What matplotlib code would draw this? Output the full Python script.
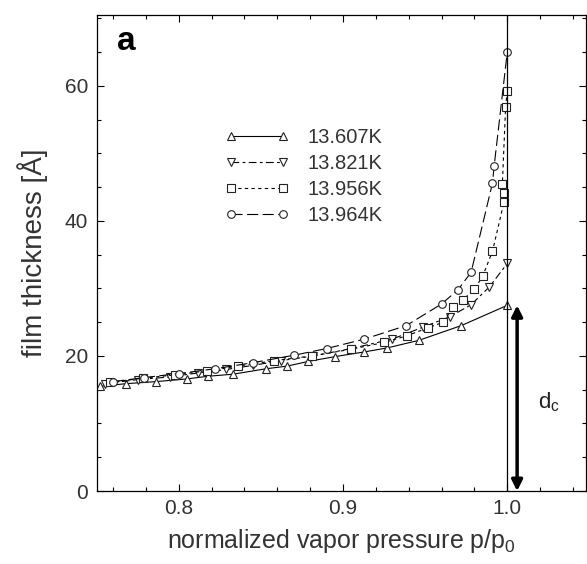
import matplotlib
matplotlib.use("Agg")
import matplotlib.pyplot as plt
from matplotlib.ticker import MultipleLocator

plt.rcParams['font.family'] = ['Liberation Sans', 'DejaVu Sans']

# film thickness vs p/p0 for four temperatures
labels = ['13.607K', '13.821K', '13.956K', '13.964K']

x_607 = [0.752, 0.768, 0.786, 0.805, 0.818, 0.833, 0.853, 0.866, 0.879, 0.895, 0.913, 0.927, 0.946, 0.972, 1.000]
y_607 = [15.5, 15.9, 16.2, 16.6, 17.0, 17.3, 18.1, 18.5, 19.2, 19.9, 20.6, 21.2, 22.3, 24.5, 27.5]

x_821 = [0.755, 0.775, 0.795, 0.812, 0.829, 0.845, 0.862, 0.882, 0.905, 0.930, 0.949, 0.965, 0.978, 0.989, 1.000]
y_821 = [15.9, 16.5, 16.9, 17.5, 18.0, 18.6, 19.3, 20.0, 21.1, 22.5, 24.3, 25.8, 27.6, 30.2, 33.7]

x_956 = [0.758, 0.778, 0.798, 0.817, 0.836, 0.858, 0.881, 0.905, 0.925, 0.939, 0.952, 0.961,
         0.967, 0.973, 0.980, 0.985, 0.991, 0.998, 0.998, 0.997, 0.999, 1.000]
y_956 = [16.1, 16.7, 17.2, 17.8, 18.5, 19.3, 20.0, 21.0, 22.0, 23.0, 24.2, 25.0,
         27.2, 28.3, 29.9, 31.8, 35.5, 42.8, 44.2, 45.4, 56.9, 59.3]

x_964 = [0.760, 0.779, 0.800, 0.822, 0.845, 0.870, 0.890, 0.913, 0.9385, 0.960, 0.970, 0.978, 0.991, 0.992, 1.000]
y_964 = [16.2, 16.8, 17.4, 18.1, 19.0, 20.1, 21.1, 22.5, 24.5, 27.7, 29.8, 32.4, 45.6, 48.1, 65.0]

d_c = 27.5  # critical thickness at p/p0 = 1

series = [(x_607, y_607), (x_821, y_821), (x_956, y_956), (x_964, y_964)]
markers = ['^', 'v', 's', 'o']
styles = ['-', (0, (7, 3, 2.5, 3)), (0, (3, 3)), (0, (10, 4))]

fig = plt.figure(figsize=(5.87, 5.64), dpi=100)
ax = fig.add_axes([0.1645, 0.1294, 0.834, 0.844])

for (xs, ys), mk, ls, lab in zip(series, markers, styles, labels):
    ax.plot(xs, ys, color='black', lw=0.8, ls=ls, marker=mk, ms=5.5,
            mfc='white', mec='#222222', mew=0.8, label=lab)

ax.axvline(1.0, color='black', lw=0.9)
ax.annotate('', xy=(1.006, 0), xytext=(1.006, d_c),
            arrowprops=dict(arrowstyle='<|-|>', lw=2.5, color='black',
                            mutation_scale=16, shrinkA=0, shrinkB=0))
ax.text(1.0185, 12.3, r'd$_{\mathregular{c}}$', fontsize=16, color='#222222')

ax.text(0.042, 0.926, 'a', transform=ax.transAxes, fontsize=24,
        fontweight='bold', va='baseline')

ax.set_xlim(0.75, 1.048)
ax.set_ylim(0, 70.5)
ax.xaxis.set_major_locator(MultipleLocator(0.1))
ax.xaxis.set_minor_locator(MultipleLocator(0.02))
ax.yaxis.set_major_locator(MultipleLocator(20))
ax.yaxis.set_minor_locator(MultipleLocator(5))
ax.set_xticks([0.8, 0.9, 1.0])
ax.set_xticklabels(['0.8', '0.9', '1.0'])
ax.tick_params(which='both', direction='in', top=True, right=True,
               labelsize=15, labelcolor='#333333', width=0.8)
ax.tick_params(which='major', length=5, pad=6)
ax.tick_params(which='minor', length=3)
for sp in ax.spines.values():
    sp.set_linewidth(0.9)

ax.set_xlabel(r'normalized vapor pressure p/p$_{\mathregular{0}}$', fontsize=18,
              color='#333333', labelpad=6)
ax.set_ylabel('film thickness [Å]', fontsize=20, color='#333333', labelpad=12)

leg = ax.legend(loc='upper left', bbox_to_anchor=(0.262, 0.762), frameon=False,
                numpoints=2, handlelength=3.2, handletextpad=0.9,
                labelspacing=0.35, fontsize=14.5, borderpad=0, borderaxespad=0)
for t in leg.get_texts():
    t.set_color('#333333')

fig.savefig('out.png', dpi=100)
